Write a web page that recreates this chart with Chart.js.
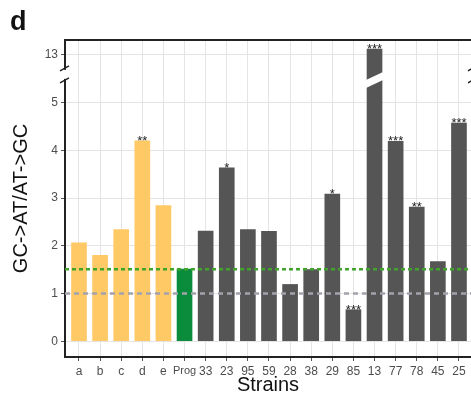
<!DOCTYPE html>
<html>
<head>
<meta charset="utf-8">
<script src="https://cdn.jsdelivr.net/npm/chart.js@4.4.1/dist/chart.umd.min.js"></script>
<style>
  html, body { margin: 0; padding: 0; background: #fff; overflow: hidden; }
  #wrap { width: 471px; height: 399px; position: relative; }
</style>
</head>
<body>
<div id="wrap"><canvas id="grafico" width="471" height="399"></canvas></div>
<script>
// datos
const strains = ['a', 'b', 'c', 'd', 'e', 'Prog', '33', '23', '95', '59', '28', '38', '29', '85', '13', '77', '78', '45', '25'];
const ratios = [2.06, 1.80, 2.34, 4.20, 2.84, 1.51, 2.31, 3.63, 2.34, 2.30, 1.19, 1.50, 3.08, 0.66, 13.12, 4.19, 2.81, 1.67, 4.57];
const grupos = ['mut', 'mut', 'mut', 'mut', 'mut', 'prog', 'wt', 'wt', 'wt', 'wt', 'wt', 'wt', 'wt', 'wt', 'wt', 'wt', 'wt', 'wt', 'wt'];
const estrellas = ['', '', '', '**', '', '', '', '*', '', '', '', '', '*', '***', '***', '***', '**', '', '***'];
const yTicks = [0, 1, 2, 3, 4, 5, 13];
const lineaBase = 1;      // linea gris
const lineaProg = 1.51;   // linea verde (nivel de Prog)

const colores = { mut: '#FFC966', prog: '#0A8C3C', wt: '#555555' };

// eje cortado: de 5 a 13 se comprime
const corteInf = 5.5;
const corteSup = 13;
function aEje(v) {
    return v > corteInf ? 6 + (v - corteSup) : v;
}
const ejeTicks = yTicks.map(aEje);

const xMin = -0.663, xMax = 18.57;

const barras = strains.map((s, i) => ({ x: i, y: aEje(ratios[i]) }));

const pluginDecor = {
    id: 'decor',
    afterDatasetsDraw(chart) {
        const ctx = chart.ctx;
        const ys = chart.scales.y;
        const meta = chart.getDatasetMeta(2);
        ctx.save();
        // corte en las barras que pasan el limite
        meta.data.forEach((bar, i) => {
            if (ratios[i] > corteInf) {
                const yc = ys.getPixelForValue(5.45);
                const l = bar.x - bar.width / 2 - 1, r = bar.x + bar.width / 2 + 1;
                ctx.fillStyle = '#ffffff';
                ctx.beginPath();
                ctx.moveTo(l, yc - 1);
                ctx.lineTo(r, yc - 9);
                ctx.lineTo(r, yc - 1);
                ctx.lineTo(l, yc + 7);
                ctx.closePath();
                ctx.fill();
            }
        });
        // asteriscos
        ctx.fillStyle = '#222';
        ctx.font = '13px "Liberation Sans", Arial, sans-serif';
        ctx.textAlign = 'center';
        ctx.textBaseline = 'alphabetic';
        meta.data.forEach((bar, i) => {
            if (estrellas[i]) ctx.fillText(estrellas[i], bar.x, bar.y + 4);
        });
        ctx.restore();
    },
    afterDraw(chart) {
        const ctx = chart.ctx;
        const a = chart.chartArea;
        const ys = chart.scales.y;
        ctx.save();
        // borde superior
        ctx.strokeStyle = '#222';
        ctx.lineWidth = 2;
        ctx.beginPath();
        ctx.moveTo(a.left - 1, a.top);
        ctx.lineTo(a.right + 2, a.top);
        ctx.stroke();
        // marcas de corte en el eje
        const yc = ys.getPixelForValue(5.6);
        [a.left, a.right + 2].forEach(x => {
            ctx.fillStyle = '#ffffff';
            ctx.fillRect(x - 3, yc - 4, 6, 9);
            ctx.strokeStyle = '#222';
            ctx.lineWidth = 1.5;
            ctx.beginPath();
            ctx.moveTo(x - 5, yc - 3);
            ctx.lineTo(x + 4, yc - 8);
            ctx.moveTo(x - 5, yc + 9);
            ctx.lineTo(x + 4, yc + 4);
            ctx.stroke();
        });
        // letra del panel
        ctx.fillStyle = '#111';
        ctx.font = 'bold 27px "Liberation Sans", Arial, sans-serif';
        ctx.textAlign = 'left';
        ctx.textBaseline = 'alphabetic';
        ctx.fillText('d', 10, 30);
        ctx.restore();
    }
};

new Chart(document.getElementById('grafico').getContext('2d'), {
    data: {
        datasets: [
            {
                type: 'line',
                label: 'Prog',
                data: [{ x: xMin, y: lineaProg }, { x: xMax, y: lineaProg }],
                borderColor: '#3FA52A',
                borderWidth: 2.5,
                borderDash: [4, 3],
                pointRadius: 0,
                order: 0
            },
            {
                type: 'line',
                label: 'base',
                data: [{ x: xMin, y: lineaBase }, { x: xMax, y: lineaBase }],
                borderColor: '#A3A3AE',
                borderWidth: 2.5,
                borderDash: [5, 4],
                pointRadius: 0,
                order: 0
            },
            {
                type: 'bar',
                label: 'GC->AT/AT->GC',
                data: barras,
                backgroundColor: grupos.map(g => colores[g]),
                barThickness: 15,
                order: 1
            }
        ]
    },
    options: {
        responsive: false,
        animation: false,
        layout: { padding: { top: 40, left: 0, right: 0, bottom: 0 } },
        plugins: { legend: { display: false }, tooltip: { enabled: false } },
        scales: {
            x: {
                type: 'linear',
                offset: false,
                min: xMin,
                max: xMax,
                afterBuildTicks: (scale) => { scale.ticks = strains.map((s, i) => ({ value: i })); },
                afterFit: (scale) => { scale.height = 42; },
                ticks: {
                    autoSkip: false,
                    maxRotation: 0,
                    padding: 3,
                    color: '#4d4d4d',
                    font: (c) => ({ family: '"Liberation Sans", Arial, sans-serif', size: (c.tick && c.tick.value === 5) ? 11 : 12 }),
                    callback: (v) => strains[v]
                },
                grid: { offset: false, color: '#e4e4e4', lineWidth: 1, tickLength: 4, tickColor: '#555' },
                border: { display: true, color: '#222', width: 2 },
                title: {
                    display: true,
                    text: 'Strains',
                    color: '#111',
                    font: { family: '"Liberation Sans", Arial, sans-serif', size: 20 },
                    padding: { top: 2, bottom: 2 }
                }
            },
            y: {
                type: 'linear',
                min: -0.33,
                max: 6.31,
                afterBuildTicks: (scale) => { scale.ticks = ejeTicks.map(v => ({ value: v })); },
                afterFit: (scale) => { scale.width = 65; },
                ticks: {
                    padding: 3,
                    color: '#4d4d4d',
                    font: { family: '"Liberation Sans", Arial, sans-serif', size: 12 },
                    callback: (v) => yTicks[ejeTicks.indexOf(v)]
                },
                grid: { color: '#e4e4e4', lineWidth: 1, tickLength: 4, tickColor: '#555' },
                border: { display: true, color: '#222', width: 2 },
                title: {
                    display: true,
                    text: 'GC->AT/AT->GC',
                    color: '#111',
                    font: { family: '"Liberation Sans", Arial, sans-serif', size: 20 },
                    padding: { top: 9, bottom: 9 }
                }
            }
        }
    },
    plugins: [pluginDecor]
});
</script>
</body>
</html>
